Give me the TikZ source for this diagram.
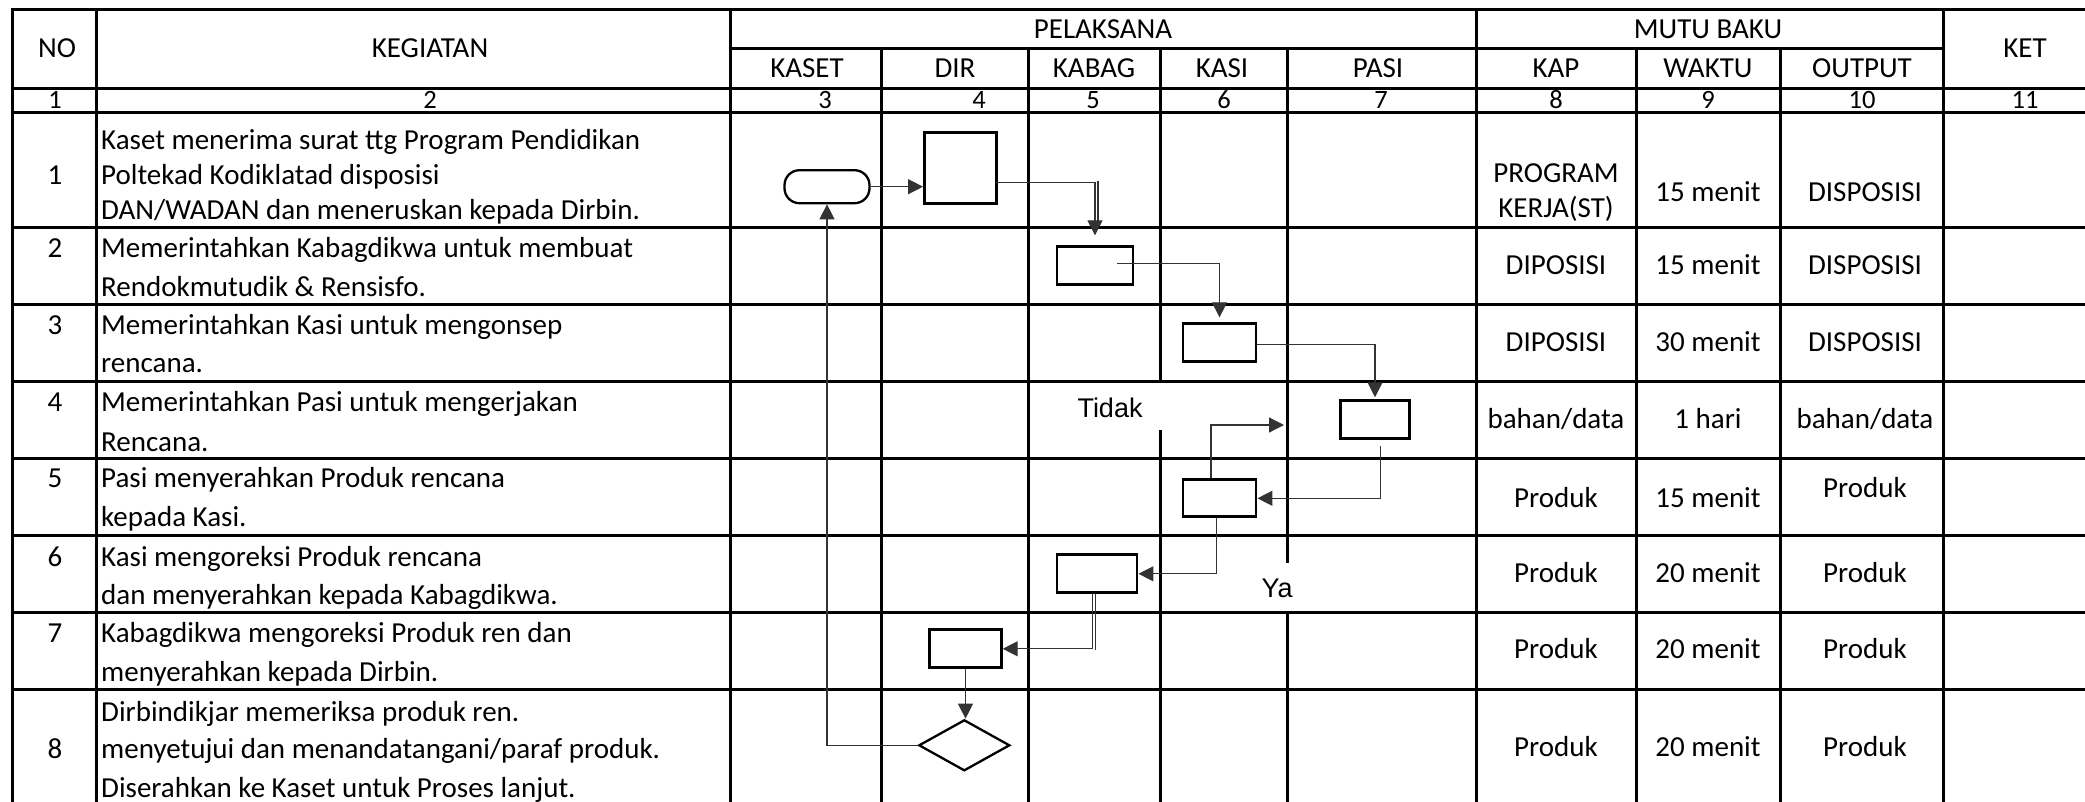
\documentclass[tikz,border=0pt]{standalone}
\usepackage{fontspec}
\setmainfont{Carlito}
\newfontfamily\labelfont{Liberation Sans}
\usetikzlibrary{arrows.meta,calc,shapes.geometric}
\newcommand\tabfont{\fontsize{29pt}{34pt}\selectfont}
\newcommand\numfont{\fontsize{26.5pt}{31pt}\selectfont}
\newcommand\lblfont{\labelfont\fontsize{27pt}{32pt}\selectfont}

\begin{document}
\begin{tikzpicture}[x=1pt,y=-1pt,
  grid/.style={line width=3pt, line cap=rect},
  box/.style={draw, line width=2.9pt, inner sep=0pt},
  conn/.style={line width=1.2pt, draw=black!80},
  arr/.style={conn, -{Triangle[length=15pt,width=15pt]}},
  txt/.style={inner sep=0pt, font=\tabfont},
  lt/.style={txt, anchor=base west},
  ct/.style={txt, anchor=base},
  nt/.style={inner sep=0pt, anchor=base, font=\numfont},
  lbl/.style={inner sep=0pt, font=\lblfont}
]
\fill[white] (0,0) rectangle (2085,801);
\path[use as bounding box] (0,0) rectangle (2085,801);

% ---------- table rules ----------
\foreach \y in {9,88,112,227,304,381,458,535,612,689}
  \draw[grid] (12,\y) -- (2085,\y);
\draw[grid] (730,48.7) -- (1943,48.7);
\foreach \x in {12,96.5,730,1476,1943}
  \draw[grid] (\x,9) -- (\x,801);
\foreach \x in {881.5,1028,1636,1780}
  \draw[grid] (\x,48.7) -- (\x,801);
% KABAG/KASI rule, open behind the "Tidak" label
\draw[grid] (1160,48.7) -- (1160,381);
\draw[grid] (1160,431.7) -- (1160,801);
% KASI/PASI rule, open behind the "Ya" label
\draw[grid] (1287,48.7) -- (1287,561);
\draw[grid] (1287,612) -- (1287,801);

% ---------- header ----------
\node[ct] (hNO)  at (57,57.8)   {NO};
\node[ct] (hKEG) at (430,57.8)  {KEGIATAN};
\node[ct] (hPEL) at (1103,38.3) {PELAKSANA};
\node[ct] (hKASET) at (807,77.3)  {KASET};
\node[ct] (hDIR)   at (955,77.3)  {DIR};
\node[ct] (hKABAG) at (1094,77.3) {KABAG};
\node[ct] (hKASI)  at (1222,77.3) {KASI};
\node[ct] (hPASI)  at (1378,77.3) {PASI};
\node[ct] (hMUTU)  at (1708,38.3) {MUTU BAKU};
\node[ct] (hKAP)   at (1556,77.3) {KAP};
\node[ct] (hWAKTU) at (1708,77.3) {WAKTU};
\node[ct] (hOUT)   at (1862,77.3) {OUTPUT};
\node[ct] (hKET)   at (2025,57.8) {KET};

% column numbers
\node[nt] (n1)  at (55,108.5)   {1};
\node[nt] (n2)  at (430,108.5)  {2};
\node[nt] (n3)  at (825,108.5)  {3};
\node[nt] (n4)  at (979,108.5)  {4};
\node[nt] (n5)  at (1093,108.5) {5};
\node[nt] (n6)  at (1224,108.5) {6};
\node[nt] (n7)  at (1381,108.5) {7};
\node[nt] (n8)  at (1556,108.5) {8};
\node[nt] (n9)  at (1708,108.5) {9};
\node[nt] (n10) at (1862,108.5) {10};
\node[nt] (n11) at (2025,108.5) {11};

% ---------- row numbers ----------
\node[ct] (r1) at (55,184.3) {1};
\node[ct] (r2) at (55,257.3) {2};
\node[ct] (r3) at (55,334.3) {3};
\node[ct] (r4) at (55,411.3) {4};
\node[ct] (r5) at (55,487.3) {5};
\node[ct] (r6) at (55,566.3) {6};
\node[ct] (r7) at (55,642.3) {7};
\node[ct] (r8) at (55,758.3) {8};

% ---------- activities ----------
\node[lt] (k1a) at (101,149.3) {Kaset menerima surat ttg Program Pendidikan};
\node[lt] (k1b) at (101,184.3) {Poltekad Kodiklatad disposisi};
\node[lt] (k1c) at (101,219.3) {DAN/WADAN dan meneruskan kepada Dirbin.};
\node[lt] (k2a) at (101,257.3) {Memerintahkan Kabagdikwa untuk membuat};
\node[lt] (k2b) at (101,296.3) {Rendokmutudik \& Rensisfo.};
\node[lt] (k3a) at (101,334.3) {Memerintahkan Kasi untuk mengonsep};
\node[lt] (k3b) at (101,372.3) {rencana.};
\node[lt] (k4a) at (101,411.3) {Memerintahkan Pasi untuk mengerjakan};
\node[lt] (k4b) at (101,451.3) {Rencana.};
\node[lt] (k5a) at (101,487.3) {Pasi menyerahkan Produk rencana};
\node[lt] (k5b) at (101,526.3) {kepada Kasi.};
\node[lt] (k6a) at (101,566.3) {Kasi mengoreksi Produk rencana};
\node[lt] (k6b) at (101,604.3) {dan menyerahkan kepada Kabagdikwa.};
\node[lt] (k7a) at (101,642.3) {Kabagdikwa mengoreksi Produk ren dan};
\node[lt] (k7b) at (101,681.3) {menyerahkan kepada Dirbin.};
\node[lt] (k8a) at (101,721.3) {Dirbindikjar memeriksa produk ren.};
\node[lt] (k8b) at (101,758.3) {menyetujui dan menandatangani/paraf produk.};
\node[lt] (k8c) at (101,797.3) {Diserahkan ke Kaset untuk Proses lanjut.};

% ---------- standards: KAP / WAKTU / OUTPUT ----------
\node[ct] (p1a) at (1556,182.3) {PROGRAM};
\node[ct] (p1b) at (1556,217.3) {KERJA(ST)};
\node[ct] (w1)  at (1708,201.3) {15 menit};
\node[ct] (o1)  at (1865,201.3) {DISPOSISI};
\node[ct] (p2)  at (1556,274.3) {DIPOSISI};
\node[ct] (w2)  at (1708,274.3) {15 menit};
\node[ct] (o2)  at (1865,274.3) {DISPOSISI};
\node[ct] (p3)  at (1556,351.3) {DIPOSISI};
\node[ct] (w3)  at (1708,351.3) {30 menit};
\node[ct] (o3)  at (1865,351.3) {DISPOSISI};
\node[ct] (p4)  at (1556,428.3) {bahan/data};
\node[ct] (w4)  at (1708,428.3) {1 hari};
\node[ct] (o4)  at (1865,428.3) {bahan/data};
\node[ct] (p5)  at (1556,507.3) {Produk};
\node[ct] (w5)  at (1708,507.3) {15 menit};
\node[ct] (o5)  at (1865,497.3) {Produk};
\node[ct] (p6)  at (1556,582.3) {Produk};
\node[ct] (w6)  at (1708,582.3) {20 menit};
\node[ct] (o6)  at (1865,582.3) {Produk};
\node[ct] (p7)  at (1556,658.3) {Produk};
\node[ct] (w7)  at (1708,658.3) {20 menit};
\node[ct] (o7)  at (1865,658.3) {Produk};
\node[ct] (p8)  at (1556,756.3) {Produk};
\node[ct] (w8)  at (1708,756.3) {20 menit};
\node[ct] (o8)  at (1865,756.3) {Produk};

% ---------- flow symbols ----------
\node[box, line width=2.3pt, rounded corners=15pt, minimum width=85pt, minimum height=33pt] (start) at (827,186.7) {};
\node[box, minimum width=72pt, minimum height=71pt] (b1) at (960.5,167.8) {};
\node[box, minimum width=76pt, minimum height=38pt] (b2) at (1095,265.8) {};
\node[box, minimum width=73pt, minimum height=38pt] (b3) at (1219.5,342.8) {};
\node[box, minimum width=69pt, minimum height=38pt] (b4) at (1375,419.7) {};
\node[box, minimum width=73pt, minimum height=37pt] (b5) at (1219.5,498.3) {};
\node[box, minimum width=80pt, minimum height=38pt] (b6) at (1097,573.8) {};
\node[box, minimum width=71.5pt, minimum height=38pt] (b7) at (965.5,648.8) {};
\node[draw, diamond, line width=2.3pt, inner sep=0pt, minimum width=91pt, minimum height=51pt] (dec) at (964.3,745.3) {};

\node[lbl] (tidak) at (1110,408) {Tidak};
\node[lbl] (ya) at (1277,588) {Ya};
\coordinate (noEnd) at (1284,425);

% ---------- connectors ----------
\draw[arr] (start.east) -- (start.east -| b1.west);
\draw[arr, shorten >=10pt] ($(b1.east)+(-2,14.5)$) -| (b2.north);
\draw[conn] ($(b2.north)+(3,-64)$) -- ($(b2.north)+(3,-20)$);
\draw[arr, shorten >=5pt] ($(b2.center)+(22,-2.5)$) -| (b3.north);
\draw[arr, shorten >=2pt] ($(b3.east)+(0,1.5)$) -| (b4.north);
\draw[arr] ($(b4.south)+(5.6,5.6)$) |- (b5.east);
\draw[arr] ($(b5.north)+(-8.5,0)$) |- (noEnd);
\draw[arr] ($(b5.south)+(-3.2,0)$) |- (b6.east);
\draw[arr] ($(b6.south)+(-4.3,0)$) |- (b7.east);
\draw[conn] ($(b6.south)+(-1.3,0)$) -- ($(b6.south)+(-1.3,56)$);
\draw[arr] (b7.south) -- (b7.south |- dec.north);
\draw[arr] (dec.west) -| (start.south);
\end{tikzpicture}
\end{document}
